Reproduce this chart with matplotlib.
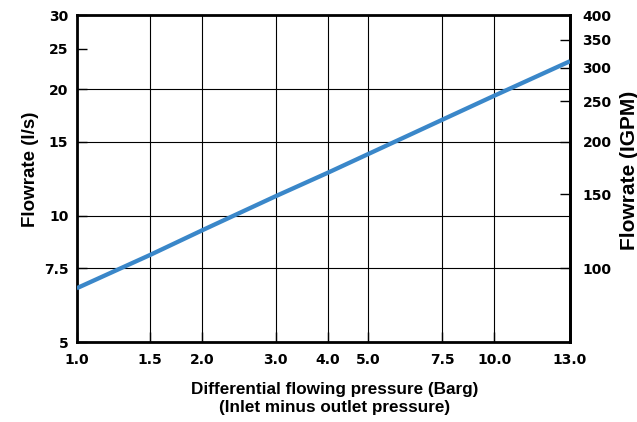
import matplotlib
matplotlib.use('Agg')
import matplotlib.pyplot as plt
import numpy as np

# values
pressure_barg = [1.0, 1.5, 2.0, 3.0, 4.0, 5.0, 7.5, 10.0, 13.0]
flow_ls = [6.73, 8.08, 9.25, 11.15, 12.68, 14.05, 16.93, 19.32, 23.35]

x_ticks = [1.0, 1.5, 2.0, 3.0, 4.0, 5.0, 7.5, 10.0, 13.0]
x_labels = ['1.0', '1.5', '2.0', '3.0', '4.0', '5.0', '7.5', '10.0', '13.0']
y_ticks = [5, 7.5, 10, 15, 20, 25, 30]
y_labels = ['5', '7.5', '10', '15', '20', '25', '30']
igpm_ticks = [100, 150, 200, 250, 300, 350, 400]
igpm_labels = ['100', '150', '200', '250', '300', '350', '400']

IGPM_PER_LS = 400 / 30

# the original axis is log up to 10, then the last segment is stretched
# so that 13.0 sits where 15.2 would on a plain log axis
STRETCH = (np.log10(15.2) - 1) / (np.log10(13.0) - 1)


def x_fwd(x):
    lx = np.log10(np.clip(np.asarray(x, dtype=float), 1e-6, None))
    return np.where(lx <= 1, lx, 1 + (lx - 1) * STRETCH)


def x_inv(u):
    u = np.asarray(u, dtype=float)
    return np.where(u <= 1, 10 ** u, 10 ** (1 + (u - 1) / STRETCH))


tick_font = {'family': 'DejaVu Sans', 'weight': 'bold', 'size': 10}
label_font = {'family': 'Liberation Sans', 'weight': 'bold'}

fig = plt.figure(figsize=(6.37, 4.22), dpi=100)
ax = fig.add_axes([0.1204, 0.1884, 0.7744, 0.7749])

ax.plot(pressure_barg, flow_ls, color='#3a87c9', lw=3.1, solid_capstyle='butt', zorder=3)

ax.set_xscale('function', functions=(x_fwd, x_inv))
ax.set_yscale('log')
ax.set_xlim(1.0, 13.0)
ax.set_ylim(5, 30)

ax.set_xticks(x_ticks)
ax.set_xticklabels(x_labels, fontdict=tick_font)
ax.set_yticks(y_ticks)
ax.set_yticklabels(y_labels, fontdict=tick_font)
ax.xaxis.set_minor_locator(matplotlib.ticker.NullLocator())
ax.yaxis.set_minor_locator(matplotlib.ticker.NullLocator())

ax.tick_params(axis='both', direction='in', length=7, width=1, color='black')
ax.tick_params(axis='x', pad=7.5)
ax.tick_params(axis='y', pad=6)

ax.grid(True, color='black', lw=0.8)
for val, gl in zip(y_ticks, ax.get_ygridlines()):
    if val == 25:
        gl.set_visible(False)

for sp in ax.spines.values():
    sp.set_linewidth(2)

sec = ax.secondary_yaxis('right', functions=(lambda v: v * IGPM_PER_LS,
                                             lambda v: v / IGPM_PER_LS))
sec.set_yticks(igpm_ticks)
sec.set_yticklabels(igpm_labels, fontdict=tick_font)
sec.yaxis.set_minor_locator(matplotlib.ticker.NullLocator())
sec.tick_params(axis='y', direction='in', length=7, width=1, pad=9)
sec.spines['right'].set_linewidth(2)

ax.set_ylabel('Flowrate (l/s)', fontdict=label_font, fontsize=13.5)
ax.yaxis.set_label_coords(-0.077, 0.531)
fig.text(0.9875, 0.597, 'Flowrate (IGPM)', fontdict=label_font, fontsize=15,
         rotation=90, ha='center', va='center')

ax.set_xlabel('Differential flowing pressure (Barg)\n(Inlet minus outlet pressure)',
              fontdict=label_font, fontsize=12.3, linespacing=1.3)
ax.xaxis.set_label_coords(0.522, -0.12)
ax.xaxis.label.set_va('top')

fig.savefig('out.png', dpi=100)
